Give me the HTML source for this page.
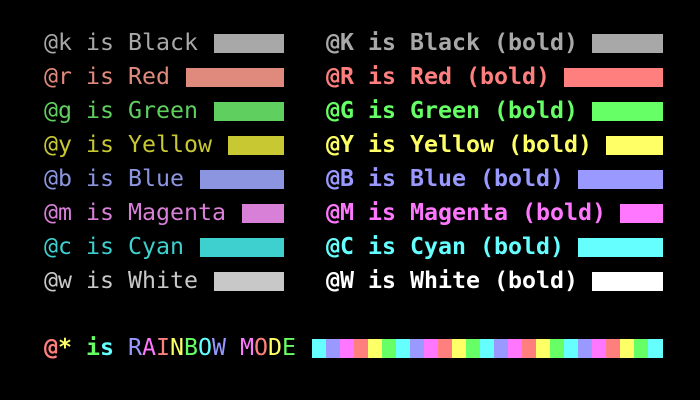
<!DOCTYPE html>
<html><head><style>
html,body{margin:0;background:#000;width:700px;height:400px;overflow:hidden}
.t{position:absolute;font-family:"DejaVu Sans Mono","Liberation Mono",monospace;font-size:23.25px;line-height:34px;white-space:pre;height:34px}
.b{font-weight:bold}
.bar{position:absolute;height:19px}
</style></head><body>
<div class="t" style="left:44px;top:26px;color:#a8a8a8">@k is Black</div>
<div class="t" style="left:44px;top:60px;color:#e08a7e">@r is Red</div>
<div class="t" style="left:44px;top:94px;color:#5fcf5f">@g is Green</div>
<div class="t" style="left:44px;top:128px;color:#c8c832">@y is Yellow</div>
<div class="t" style="left:44px;top:162px;color:#8c96e0">@b is Blue</div>
<div class="t" style="left:44px;top:196px;color:#d87fd8">@m is Magenta</div>
<div class="t" style="left:44px;top:230px;color:#3ecfcf">@c is Cyan</div>
<div class="t" style="left:44px;top:264px;color:#c8c8c8">@w is White</div>
<div class="bar" style="left:214px;width:70px;top:34px;background:#a8a8a8"></div>
<div class="bar" style="left:186px;width:98px;top:68px;background:#e08a7e"></div>
<div class="bar" style="left:214px;width:70px;top:102px;background:#5fcf5f"></div>
<div class="bar" style="left:228px;width:56px;top:136px;background:#c8c832"></div>
<div class="bar" style="left:200px;width:84px;top:170px;background:#8c96e0"></div>
<div class="bar" style="left:242px;width:42px;top:204px;background:#d87fd8"></div>
<div class="bar" style="left:200px;width:84px;top:238px;background:#3ecfcf"></div>
<div class="bar" style="left:214px;width:70px;top:272px;background:#c8c8c8"></div>

<div class="t b" style="left:326px;top:26px;color:#a8a8a8">@K is Black (bold)</div>
<div class="t b" style="left:326px;top:60px;color:#ff7f7f">@R is Red (bold)</div>
<div class="t b" style="left:326px;top:94px;color:#66ff66">@G is Green (bold)</div>
<div class="t b" style="left:326px;top:128px;color:#ffff66">@Y is Yellow (bold)</div>
<div class="t b" style="left:326px;top:162px;color:#9999ff">@B is Blue (bold)</div>
<div class="t b" style="left:326px;top:196px;color:#ff77ff">@M is Magenta (bold)</div>
<div class="t b" style="left:326px;top:230px;color:#66ffff">@C is Cyan (bold)</div>
<div class="t b" style="left:326px;top:264px;color:#ffffff">@W is White (bold)</div>
<div class="bar" style="left:592px;width:71px;top:34px;background:#a8a8a8"></div>
<div class="bar" style="left:564px;width:99px;top:68px;background:#ff7f7f"></div>
<div class="bar" style="left:592px;width:71px;top:102px;background:#66ff66"></div>
<div class="bar" style="left:606px;width:57px;top:136px;background:#ffff66"></div>
<div class="bar" style="left:578px;width:85px;top:170px;background:#9999ff"></div>
<div class="bar" style="left:620px;width:43px;top:204px;background:#ff77ff"></div>
<div class="bar" style="left:578px;width:85px;top:238px;background:#66ffff"></div>
<div class="bar" style="left:592px;width:71px;top:272px;background:#ffffff"></div>

<div class="t b" style="left:44px;top:331px"><span style="color:#ff7f7f">@</span><span style="color:#ffff66">*</span> <span style="color:#66ff66">i</span><span style="color:#66ffff">s</span> <span style="font-weight:normal"><span style="color:#9999ff">R</span><span style="color:#ff77ff">A</span><span style="color:#ff7f7f">I</span><span style="color:#ffff66">N</span><span style="color:#66ff66">B</span><span style="color:#66ffff">O</span><span style="color:#9999ff">W</span> <span style="color:#ff77ff">M</span><span style="color:#ff7f7f">O</span><span style="color:#ffff66">D</span><span style="color:#66ff66">E</span></span></div>
<div style="position:absolute;left:312px;top:339px;height:19px;display:flex">
<div style="width:14px;background:#66ffff"></div><div style="width:14px;background:#9999ff"></div><div style="width:14px;background:#ff77ff"></div><div style="width:14px;background:#ff7f7f"></div><div style="width:14px;background:#ffff66"></div><div style="width:14px;background:#66ff66"></div>
<div style="width:14px;background:#66ffff"></div><div style="width:14px;background:#9999ff"></div><div style="width:14px;background:#ff77ff"></div><div style="width:14px;background:#ff7f7f"></div><div style="width:14px;background:#ffff66"></div><div style="width:14px;background:#66ff66"></div>
<div style="width:14px;background:#66ffff"></div><div style="width:14px;background:#9999ff"></div><div style="width:14px;background:#ff77ff"></div><div style="width:14px;background:#ff7f7f"></div><div style="width:14px;background:#ffff66"></div><div style="width:14px;background:#66ff66"></div>
<div style="width:14px;background:#66ffff"></div><div style="width:14px;background:#9999ff"></div><div style="width:14px;background:#ff77ff"></div><div style="width:14px;background:#ff7f7f"></div><div style="width:14px;background:#ffff66"></div><div style="width:14px;background:#66ff66"></div>
<div style="width:15px;background:#66ffff"></div>
</div>
</body></html>
